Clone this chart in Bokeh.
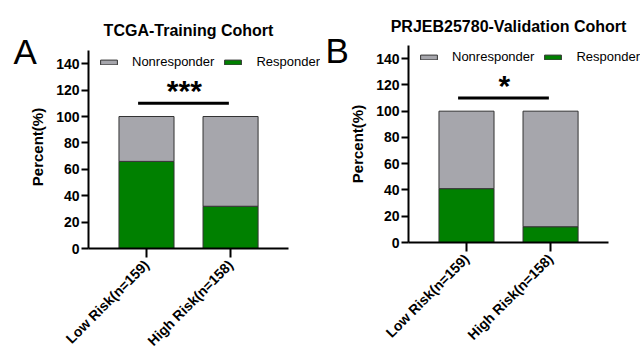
from math import pi
from bokeh.plotting import figure
from bokeh.layouts import row
from bokeh.models import (ColumnDataSource, Range1d, FixedTicker,
                          Legend, LegendItem, Label)
from bokeh.core.properties import value
from bokeh.embed import file_html
from bokeh.resources import INLINE

# ---------------- data ----------------
categories = ["Low Risk(n=159)", "High Risk(n=158)"]
series_names = ["Responder", "Nonresponder"]

tcga_responder = [66, 32]
tcga_nonresponder = [34, 68]

prjeb_responder = [41, 12]
prjeb_nonresponder = [59, 88]

y_ticks = [0, 20, 40, 60, 80, 100, 120, 140]
y_max = 150
sig_y = 110
tcga_sig = "***"
prjeb_sig = "*"

titles = ["TCGA-Training Cohort", "PRJEB25780-Validation Cohort"]
panel_letters = ["A", "B"]

FONT = "Liberation Sans"
GREEN = "#008000"
GRAY = "#a6a6ac"
EDGE = "#333333"

xpos = list(range(1, len(categories) + 1))   # positions of the categories on the x axis
PAD = 0.69                                   # space between axis end and outer bar centres
X_END = 3.07                                 # extra room on the right for the legend


def make_panel(title, letter, responder, nonresponder, sig_text,
               width, height, bl, br, bt, bb, frame_w, frame_h, y_end,
               title_xy, letter_xy, legend_xy):
    src = ColumnDataSource(dict(x=xpos, Responder=responder, Nonresponder=nonresponder))
    p = figure(x_range=Range1d(xpos[0] - PAD, X_END),
               y_range=Range1d(0, y_end),
               width=width, height=height, title_location=None,
               output_backend="svg", toolbar_location=None,
               min_border_left=bl, min_border_right=br,
               min_border_top=bt, min_border_bottom=bb)
    p.frame_width = frame_w
    p.frame_height = frame_h
    p.outline_line_color = None
    p.xgrid.visible = False
    p.ygrid.visible = False

    rs = p.vbar_stack(series_names, x="x", width=0.655, source=src,
                      fill_color=[GREEN, GRAY], line_color=EDGE, line_width=1)

    # significance bar
    sig_src = ColumnDataSource(dict(x0=[xpos[0] - 0.1], x1=[xpos[1] - 0.02],
                                    xm=[(xpos[0] + xpos[1]) / 2 - 0.05],
                                    y=[sig_y], t=[sig_text]))
    p.segment(x0="x0", y0="y", x1="x1", y1="y", source=sig_src,
              line_color="black", line_width=3)
    p.text(x="xm", y="y", text="t", source=sig_src,
           text_align="center", text_baseline="middle", y_offset=-13,
           text_font=value(FONT), text_font_style="bold",
           text_font_size="30px", text_color="black")

    # axes
    for ax in (p.xaxis[0], p.yaxis[0]):
        ax.axis_line_width = 2
        ax.axis_line_color = "black"
        ax.major_tick_line_width = 2
        ax.major_tick_line_color = "black"
        ax.major_tick_in = 0
        ax.minor_tick_line_color = None
        ax.major_label_text_font = FONT
        ax.major_label_text_font_style = "bold"
        ax.major_label_text_font_size = "14px"
        ax.major_label_text_color = "black"
    p.yaxis.ticker = FixedTicker(ticks=y_ticks)
    p.yaxis.bounds = (0, y_max)
    p.yaxis.major_tick_out = 7
    p.yaxis.major_label_standoff = 2
    p.yaxis.axis_label = "Percent(%)"
    p.yaxis.axis_label_text_font = FONT
    p.yaxis.axis_label_text_font_style = "bold"
    p.yaxis.axis_label_text_font_size = "15px"
    p.yaxis.axis_label_text_color = "black"
    p.yaxis.axis_label_standoff = 7
    p.xaxis.ticker = FixedTicker(ticks=xpos)
    p.xaxis.major_label_overrides = {x: c for x, c in zip(xpos, categories)}
    p.xaxis.bounds = (xpos[0] - PAD, xpos[-1] + PAD)
    p.xaxis.major_tick_out = 9
    p.xaxis.major_label_standoff = 5
    p.xaxis.major_label_orientation = pi / 4

    # title (as a label in the top panel)
    p.add_layout(Label(x=title_xy[0], y=title_xy[1], x_units="screen", y_units="screen",
                       text=title, text_font=FONT, text_font_style="bold",
                       text_font_size="16px", text_color="black",
                       text_align="center", text_baseline="middle"), "above")

    # legend
    legend = Legend(items=[LegendItem(label="Nonresponder", renderers=[rs[1]]),
                           LegendItem(label="Responder", renderers=[rs[0]])],
                    orientation="horizontal", location=legend_xy,
                    glyph_width=21, glyph_height=6, label_height=14,
                    label_standoff=13, spacing=8, padding=0, margin=0,
                    border_line_color=None, background_fill_alpha=0,
                    label_text_font=FONT, label_text_font_size="13px",
                    label_text_color="black")
    p.add_layout(legend, "center")

    # panel letter
    p.add_layout(Label(x=letter_xy[0], y=letter_xy[1], x_units="screen", y_units="screen",
                       text=letter, text_font=FONT, text_font_size="35px",
                       text_baseline="middle", text_align="left", text_color="black"),
                 "left")
    return p


pA = make_panel(titles[0], panel_letters[0], tcga_responder, tcga_nonresponder, tcga_sig,
                width=320, height=364, bl=88, br=0, bt=45, bb=116,
                frame_w=232, frame_h=203, y_end=y_max * 203 / 198,
                title_xy=(100, 14.6), letter_xy=(10, 197), legend_xy=(10, 179))
pB = make_panel(titles[1], panel_letters[1], prjeb_responder, prjeb_nonresponder, prjeb_sig,
                width=324, height=364, bl=88, br=4, bt=45, bb=122,
                frame_w=232, frame_h=197, y_end=y_max,
                title_xy=(100, 18.6), letter_xy=(2, 192), legend_xy=(10, 178))

layout = row(pA, pB, spacing=0)
open("out.html", "w").write(file_html(layout, INLINE))
